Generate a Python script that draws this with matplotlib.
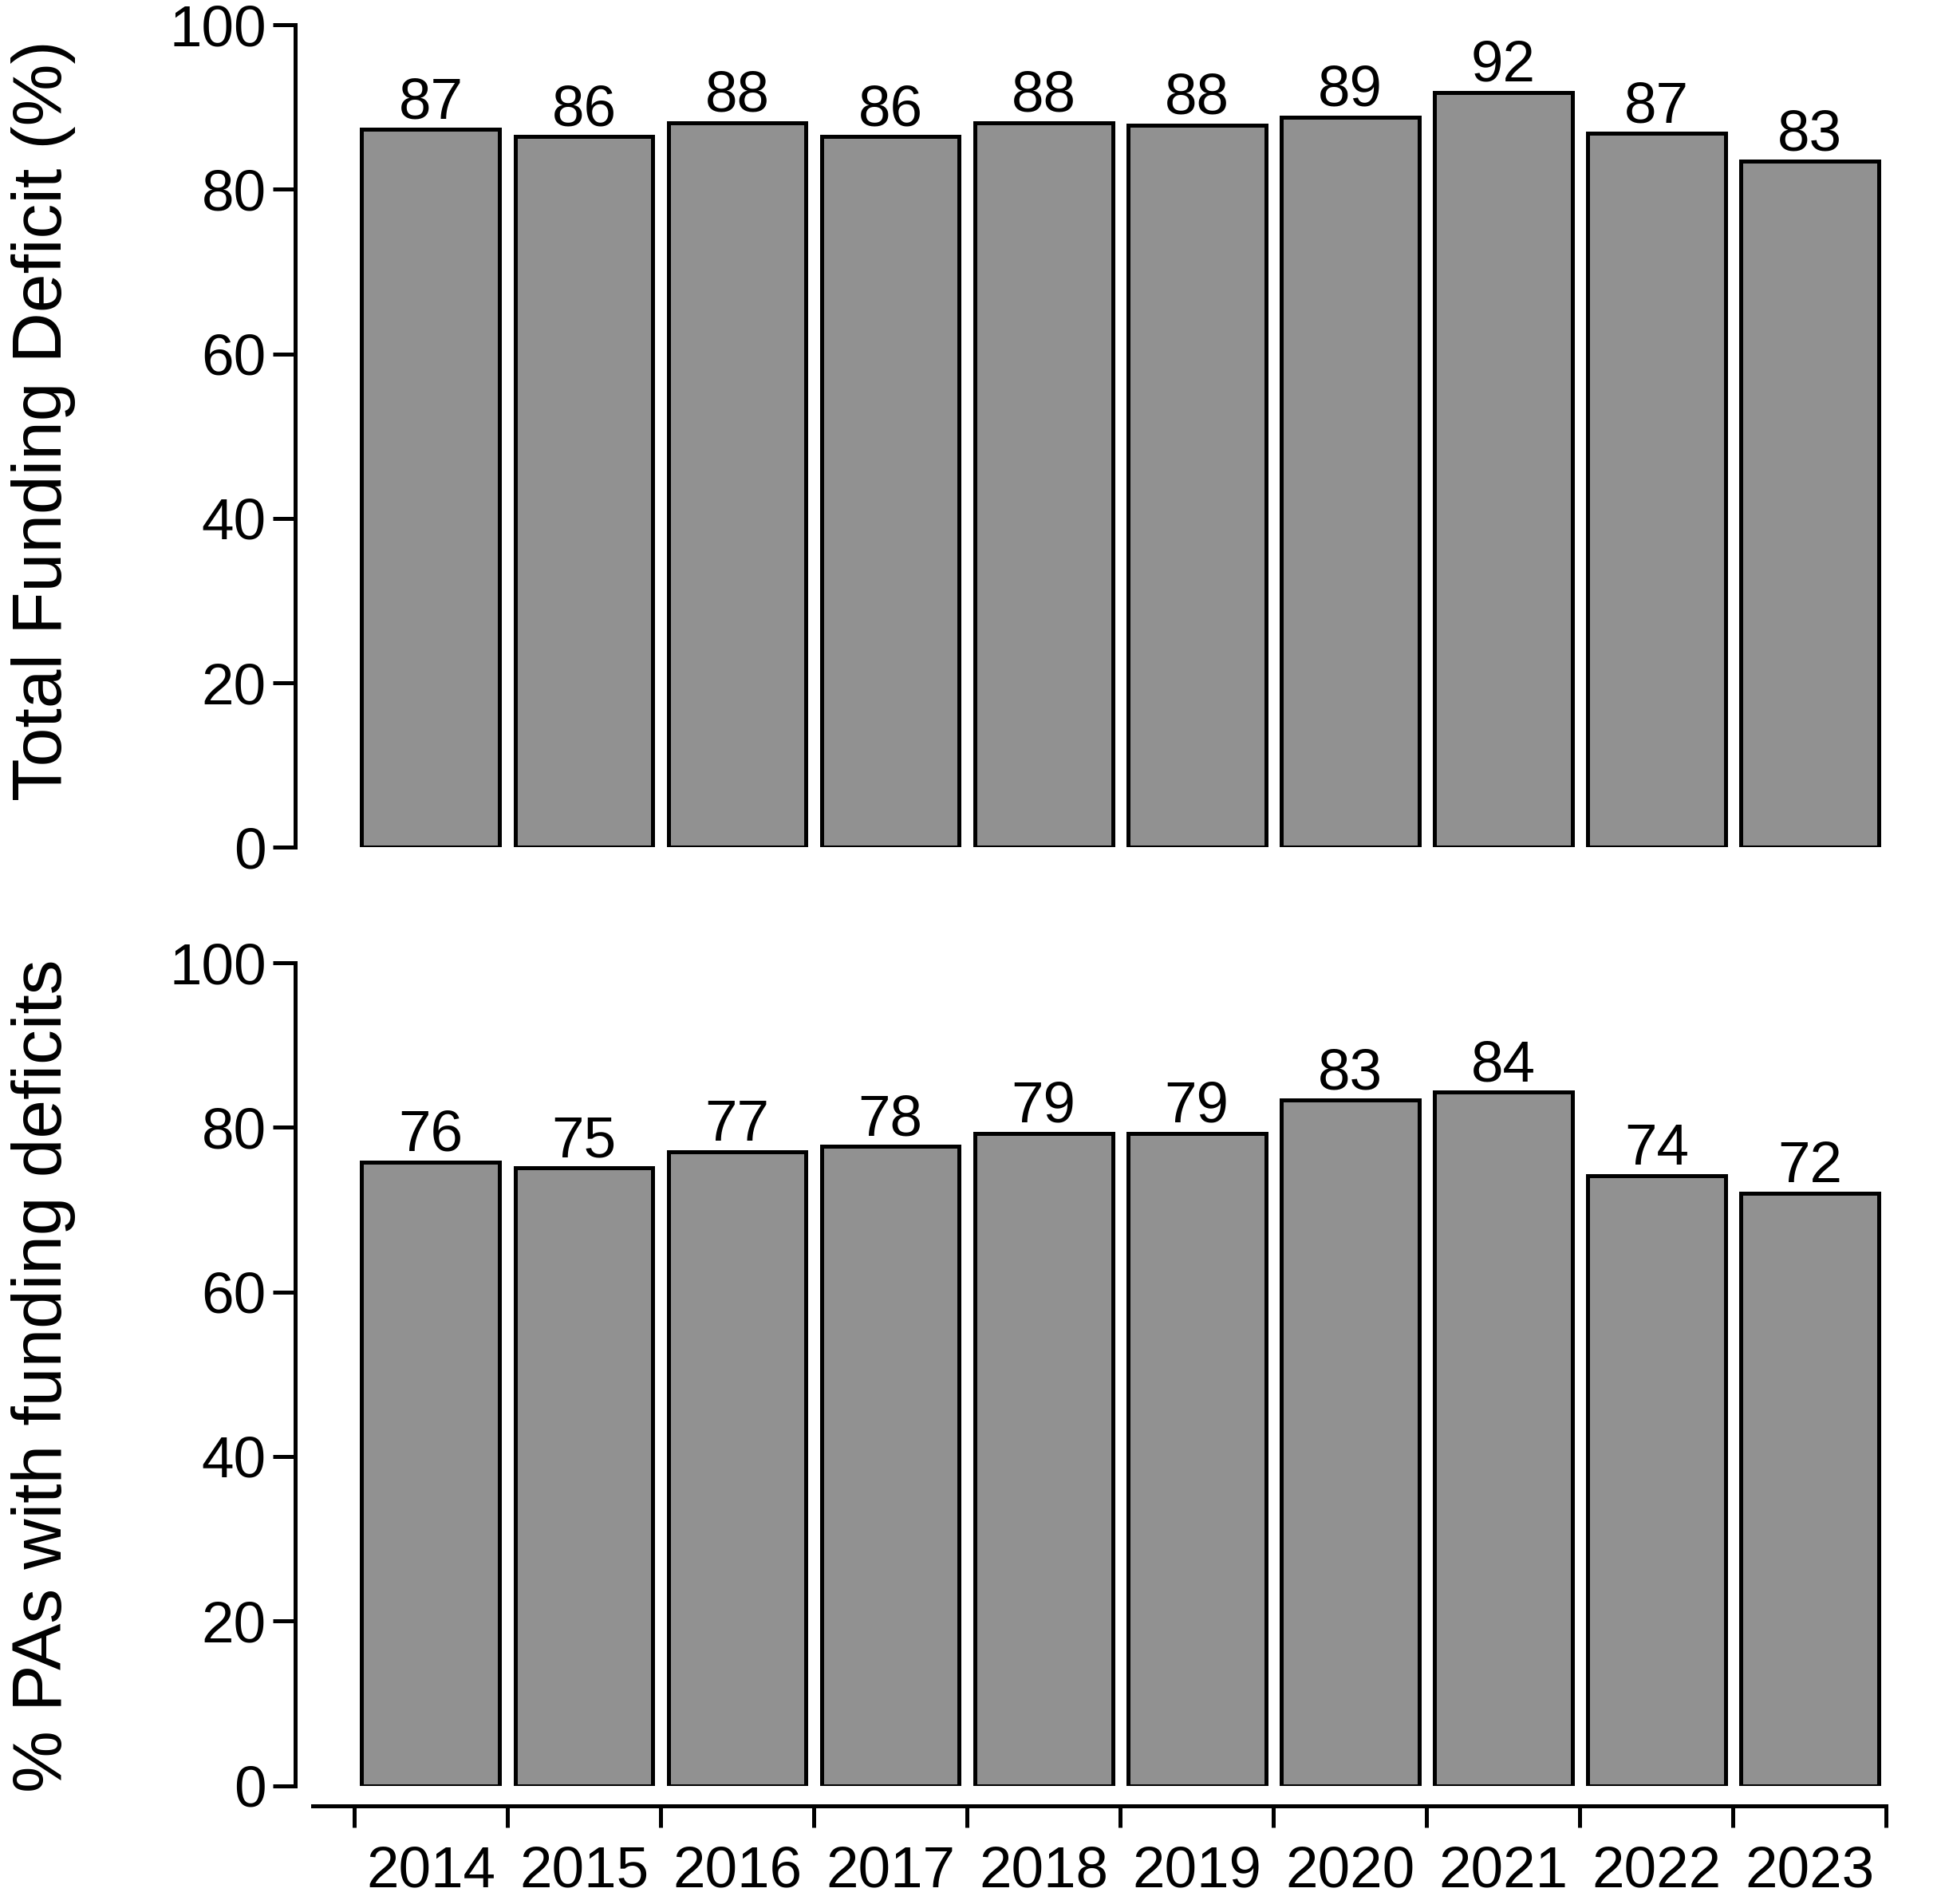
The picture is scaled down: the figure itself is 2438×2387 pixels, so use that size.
import matplotlib

matplotlib.use("Agg")
import matplotlib.pyplot as plt
from matplotlib.ticker import FixedLocator, NullFormatter

years = ["2014", "2015", "2016", "2017", "2018", "2019", "2020", "2021", "2022", "2023"]
total_deficit = [87.3, 86.4, 88.1, 86.4, 88.1, 87.8, 88.8, 91.8, 86.8, 83.4]
pas_with_deficit = [75.8, 75.1, 77.0, 77.7, 79.3, 79.3, 83.3, 84.3, 74.1, 72.0]
y_ticks = [0, 20, 40, 60, 80, 100]

BAR = "#919191"
LW = 3.6
FS = 52.5

plt.rcParams.update({"font.family": ["Liberation Sans", "DejaVu Sans"]})

fig = plt.figure(figsize=(24.38, 23.87), dpi=100)
left, width, height = 0.1608, 0.8090, 0.4321
ax_top = fig.add_axes([left, 0.5549, width, height])
ax_bot = fig.add_axes([left, 0.0622, width, height])

x = list(range(len(years)))

for ax, vals in [(ax_top, total_deficit), (ax_bot, pas_with_deficit)]:
    bars = ax.bar(x, vals, width=0.9, color=BAR, edgecolor="black", linewidth=LW)
    for b, v in zip(bars, vals):
        ax.annotate(f"{v:.0f}", (b.get_x() + b.get_width() / 2, v),
                    xytext=(0, 10), textcoords="offset points",
                    ha="center", va="baseline", fontsize=FS)
    ax.set_xlim(-0.77, 9.5)
    ax.set_ylim(0, 100)
    ax.set_yticks(y_ticks)
    ax.tick_params(axis="y", length=20, width=LW, labelsize=FS, pad=6)
    for s in ("top", "right"):
        ax.spines[s].set_visible(False)
    ax.spines["left"].set_linewidth(LW)
    ax.spines["left"].set_position(("outward", 16))

ax_top.spines["bottom"].set_visible(False)
ax_top.set_xticks([])

ax_bot.spines["bottom"].set_linewidth(LW)
ax_bot.spines["bottom"].set_position(("outward", 18))
ax_bot.xaxis.set_major_locator(FixedLocator([i - 0.5 for i in range(len(years) + 1)]))
ax_bot.xaxis.set_major_formatter(NullFormatter())
ax_bot.set_xticks(x, minor=True)
ax_bot.set_xticklabels(years, minor=True)
ax_bot.tick_params(axis="x", which="major", length=19.5, width=LW)
ax_bot.tick_params(axis="x", which="minor", length=0, labelsize=FS, pad=36)

fig.text(0.0223, 0.779, "Total Funding Deficit (%)", rotation=90,
         ha="center", va="center", fontsize=63)
fig.text(0.0223, 0.2776, "% PAs with funding deficits", rotation=90,
         ha="center", va="center", fontsize=63)

fig.savefig("out.png", dpi=100)
